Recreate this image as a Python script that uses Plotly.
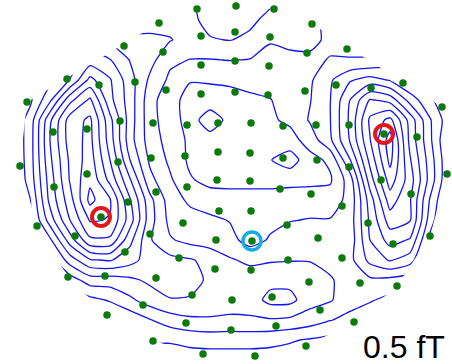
import plotly.graph_objects as go

# ---- sensor positions (pixel coordinates) ----
sensor_x = [197,159,201,124,163,201,67,99,135,166,201,27,53,87,120,153,187,218,20,118,151,185,218,87,217,
            236,274,235,312,270,347,307,235,269,403,371,336,305,235,268,442,251,283,316,349,384,417,250,283,317,349,447,381,250,
            54,156,187,128,101,37,219,183,150,75,216,125,179,215,68,105,156,192,143,107,186,153,203,
            280,311,411,251,342,287,368,252,318,430,393,288,342,251,309,360,397,272,232,320,354,231,276,306,255]
sensor_y = [9,23,36,46,52,65,79,85,82,90,94,102,132,129,121,123,125,123,166,162,158,156,152,174,180,
            6,9,32,24,37,49,53,61,66,83,88,85,91,92,95,107,123,126,125,125,134,137,153,158,160,167,174,180,181,
            187,192,187,202,217,226,211,223,234,236,240,252,258,269,277,276,278,295,305,315,323,341,354,
            189,194,194,211,206,225,223,241,238,236,244,260,258,270,282,283,286,297,300,310,322,330,326,346,356]

max_x = [101, 384]
max_y = [217, 134]
min_x = [252]
min_y = [241]

# ---- field values estimated on a regular grid (contour step = 1 unit) ----
grid_x = list(range(10, 451, 20))
grid_y = list(range(0, 361, 20))
field = [
    [1.8, 2.0, 2.2, 2.45, 2.8, 2.8, 2.45, 2.2, 2.2, 2.4, 2.8, 3.0, 2.9, 2.65, 2.2, 1.8, 1.4, 1.1, 1.2, 1.5, 1.8, 2.0, 2.0],
    [1.6, 1.9, 2.3, 2.7, 3.0, 2.9, 2.3, 2.3, 2.2, 2.35, 2.7, 2.8, 2.65, 2.3, 2.0, 1.65, 1.35, 1.1, 1.2, 1.5, 1.8, 2.0, 2.0],
    [1.8, 2.3, 2.8, 3.0, 3.8, 3.3, 2.6, 2.6, 2.55, 2.2, 2.45, 2.52, 2.35, 1.55, 1.7, 1.75, 1.3, 1.2, 1.3, 1.6, 1.9, 2.1, 2.1],
    [2.0, 2.5, 3.3, 4.0, 5.0, 4.55, 3.45, 2.85, 1.7, 1.47, 1.45, 1.53, 1.45, 1.3, 1.3, 1.3, 1.55, 1.55, 1.55, 1.9, 2.0, 2.2, 2.2],
    [2.2, 2.8, 3.2, 4.55, 6.8, 5.6, 3.9, 2.3, 1.3, 0.55, 0.55, 0.7, 0.85, 1.0, 1.1, 1.35, 2.35, 3.4, 3.9, 3.4, 2.3, 2.0, 2.0],
    [1.8, 2.3, 4.3, 7.2, 8.7, 5.8, 4.0, 1.9, 0.8, 0.2, 0.3, 0.1, 0.3, 0.45, 1.0, 1.45, 2.45, 4.5, 6.6, 6.1, 4.1, 2.65, 1.8],
    [1.5, 2.9, 6.3, 9.0, 9.7, 6.8, 4.0, 1.9, 0.9, 0.15, -1.3, -0.05, 0.2, 0.35, 0.7, 1.6, 2.45, 4.7, 7.7, 8.8, 6.1, 3.6, 1.8],
    [1.4, 3.0, 6.5, 9.0, 9.8, 7.0, 3.9, 2.0, 1.1, 0.3, 0.1, 0.0, 0.0, -0.2, 0.1, 0.95, 2.3, 4.6, 7.45, 10.0, 6.2, 3.7, 1.3],
    [1.3, 3.0, 6.3, 8.7, 10.0, 7.5, 4.5, 2.3, 1.3, 0.3, 0.1, 0.0, 0.0, -0.45, -1.0, 0.15, 0.7, 3.45, 6.8, 9.8, 6.6, 4.0, 1.5],
    [1.2, 2.9, 6.0, 8.6, 10.3, 8.2, 5.6, 2.8, 1.65, 0.6, 0.2, 0.1, 0.1, 0.1, 0.2, 0.25, 0.35, 2.0, 6.0, 9.0, 7.0, 4.1, 1.4],
    [1.0, 2.45, 5.8, 8.1, 10.8, 9.6, 6.6, 3.8, 2.0, 1.3, 1.0, 1.0, 1.0, 1.0, 1.0, 1.0, 1.0, 1.8, 5.0, 8.0, 6.6, 3.4, 1.0],
    [1.0, 2.2, 5.0, 7.5, 9.6, 9.45, 7.0, 3.9, 2.2, 1.9, 1.7, 1.45, 1.2, 1.25, 1.45, 1.55, 1.55, 2.0, 4.7, 7.0, 6.6, 3.0, 0.8],
    [0.8, 1.6, 3.3, 6.0, 8.3, 8.3, 5.8, 3.6, 2.6, 2.2, 2.0, 1.8, 1.1, 1.6, 2.0, 2.0, 2.0, 1.9, 4.5, 5.9, 5.4, 2.2, 0.4],
    [0.5, 1.0, 2.0, 4.0, 5.4, 5.6, 4.9, 4.0, 3.8, 3.6, 3.2, 2.6, 2.3, 2.4, 2.45, 2.45, 2.2, 2.2, 3.8, 4.6, 4.0, 1.6, 0.2],
    [0.2, 0.5, 1.0, 2.0, 3.0, 3.0, 3.3, 3.7, 3.9, 3.7, 3.4, 2.9, 3.0, 3.2, 3.2, 3.0, 2.6, 2.1, 2.3, 2.2, 1.8, 1.0, 0.2],
    [0.0, 0.2, 0.5, 0.6, 1.2, 1.6, 2.3, 3.0, 3.45, 3.45, 3.0, 3.0, 3.0, 3.8, 3.8, 2.9, 2.6, 1.9, 1.6, 1.2, 0.6, 0.2, 0.0],
    [0.0, 0.0, 0.1, 0.2, 0.3, 0.45, 0.8, 1.45, 2.0, 2.3, 2.4, 2.3, 2.35, 2.4, 2.3, 2.0, 1.55, 1.2, 0.8, 0.3, 0.0, 0.0, 0.0],
    [0.0, 0.0, 0.0, 0.0, 0.0, 0.1, 0.2, 0.6, 0.6, 0.8, 0.9, 0.9, 0.9, 0.8, 0.6, 0.4, 0.2, -0.2, 0.0, 0.0, 0.0, 0.0, 0.0],
    [0.0] * 23,
]

scale_label = "0.5 fT"

W, H = 452, 364


def convex_hull(pts):
    pts = sorted(set(pts))

    def cross(o, a, b):
        return (a[0] - o[0]) * (b[1] - o[1]) - (a[1] - o[1]) * (b[0] - o[0])

    lower, upper = [], []
    for p in pts:
        while len(lower) >= 2 and cross(lower[-2], lower[-1], p) <= 0:
            lower.pop()
        lower.append(p)
    for p in reversed(pts):
        while len(upper) >= 2 and cross(upper[-2], upper[-1], p) <= 0:
            upper.pop()
        upper.append(p)
    return lower[:-1] + upper[:-1]


hull = convex_hull(list(zip(sensor_x, sensor_y)))
hr = hull[::-1]
mask_x = [-20, W + 20, W + 20, -20, -20] + [p[0] for p in hr] + [hr[0][0], -20]
mask_y = [-20, -20, H + 20, H + 20, -20] + [p[1] for p in hr] + [hr[0][1], -20]

fig = go.Figure()
fig.add_trace(go.Contour(
    x=grid_x, y=grid_y, z=field,
    contours=dict(start=-0.5, end=10.5, size=1, coloring="none"),
    line=dict(color="#1414f0", width=1.3, smoothing=0.6),
    showscale=False, hoverinfo="skip",
))
fig.add_trace(go.Scatter(
    x=mask_x, y=mask_y, mode="lines", fill="toself",
    fillcolor="white", line=dict(width=0, color="white"),
    hoverinfo="skip", showlegend=False,
))
fig.add_trace(go.Scatter(
    x=sensor_x, y=sensor_y, mode="markers",
    marker=dict(size=7.5, color="#0b7a0b", line=dict(width=0)),
    hoverinfo="skip", showlegend=False,
))
fig.add_trace(go.Scatter(
    x=max_x, y=max_y, mode="markers",
    marker=dict(symbol="circle-open", size=18, color="#e3161c", line=dict(width=4, color="#e3161c")),
    hoverinfo="skip", showlegend=False,
))
fig.add_trace(go.Scatter(
    x=min_x, y=min_y, mode="markers",
    marker=dict(symbol="circle-open", size=18, color="#18ace4", line=dict(width=3.5, color="#18ace4")),
    hoverinfo="skip", showlegend=False,
))

fig.add_annotation(
    x=447, y=347, xref="x", yref="y", text=scale_label, showarrow=False,
    xanchor="right", yanchor="middle",
    font=dict(family="Liberation Sans, Arial, sans-serif", size=32, color="black"),
)

fig.update_layout(
    width=W, height=H, margin=dict(l=0, r=0, t=0, b=0),
    paper_bgcolor="white", plot_bgcolor="white", showlegend=False,
    xaxis=dict(range=[0, W], visible=False, fixedrange=True),
    yaxis=dict(range=[H, 0], visible=False, fixedrange=True),
)

fig.write_html("out.html", config={"displayModeBar": False, "staticPlot": True},
               post_script="document.body.style.margin='0px';")
